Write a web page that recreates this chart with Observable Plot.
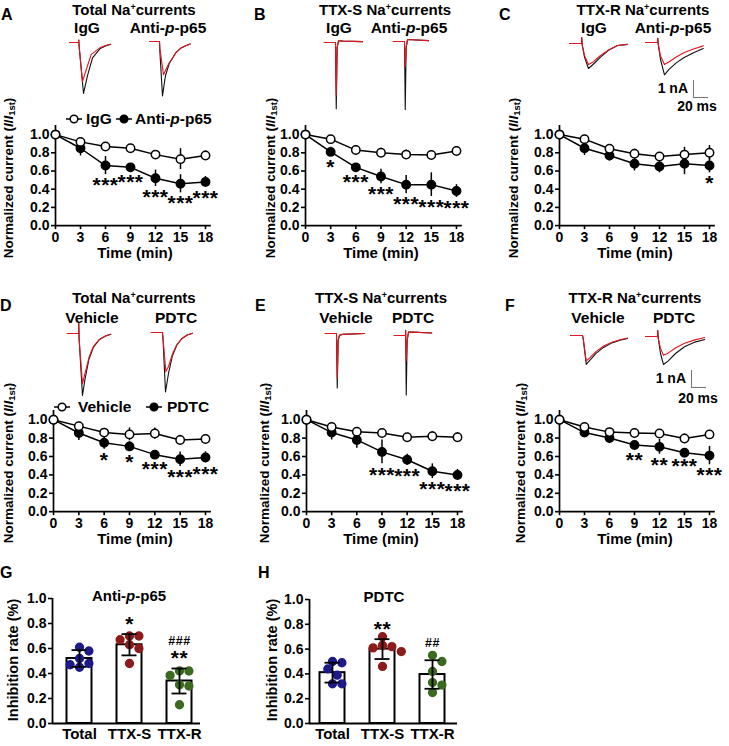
<!DOCTYPE html>
<html><head><meta charset="utf-8">
<script src="https://cdn.jsdelivr.net/npm/d3@7"></script>
<script src="https://cdn.jsdelivr.net/npm/@observablehq/plot@0.6"></script>
<style>
body{margin:0;background:#fff}
#root{position:relative;width:729px;height:746px;overflow:hidden;font-family:"Liberation Sans",Arial,Helvetica,sans-serif;font-weight:bold;color:#000;background:#fff}
#root svg{position:absolute}
.lbl{position:absolute;white-space:nowrap;line-height:1;font-weight:bold}
.sup{font-size:0.6em;vertical-align:0.55em}
.sub{font-size:0.7em;vertical-align:-0.25em}
.axisw [aria-label$="tick"]{stroke-width:1.6px}
.axisw g[aria-label="text"] text{letter-spacing:0.5px}
</style></head>
<body><div id="root"></div>
<script>
// ---------------- DATA ----------------
const times = [0, 3, 6, 9, 12, 15, 18];
const xTicks = [0, 3, 6, 9, 12, 15, 18];
const yTicks = [0, 0.2, 0.4, 0.6, 0.8, 1.0];

// Panel A: Total Na+ currents (IgG vs Anti-p-p65)
const A_ctrl = [1.0, 0.92, 0.87, 0.85, 0.78, 0.73, 0.77];
const A_ctrlErr = [0, 0.02, 0.03, 0.02, 0.02, 0.115, 0.05];
const A_trt = [1.0, 0.85, 0.66, 0.64, 0.52, 0.46, 0.48];
const A_trtErr = [0, 0.085, 0.10, 0.04, 0.09, 0.10, 0.06];
const A_stars = ["", "", "***", "***", "***", "***", "***"];
// Panel B: TTX-S
const B_ctrl = [1.0, 0.95, 0.83, 0.80, 0.78, 0.775, 0.82];
const B_ctrlErr = [0, 0.02, 0.05, 0.05, 0.05, 0.03, 0.05];
const B_trt = [1.0, 0.81, 0.64, 0.54, 0.45, 0.45, 0.38];
const B_trtErr = [0, 0.05, 0.04, 0.08, 0.10, 0.13, 0.07];
const B_stars = ["", "*", "***", "***", "***", "***", "***"];
// Panel C: TTX-R
const C_ctrl = [1.0, 0.95, 0.845, 0.79, 0.76, 0.78, 0.80];
const C_ctrlErr = [0, 0.02, 0.03, 0.05, 0.03, 0.08, 0.08];
const C_trt = [1.0, 0.85, 0.77, 0.68, 0.65, 0.68, 0.66];
const C_trtErr = [0, 0.08, 0.06, 0.08, 0.07, 0.12, 0.08];
const C_stars = ["", "", "", "", "", "", "*"];
// Panel D: Total (Vehicle vs PDTC)
const D_ctrl = [1.0, 0.93, 0.86, 0.84, 0.85, 0.78, 0.79];
const D_ctrlErr = [0, 0.02, 0.03, 0.07, 0.06, 0.05, 0.02];
const D_trt = [1.0, 0.855, 0.75, 0.71, 0.62, 0.57, 0.59];
const D_trtErr = [0, 0.08, 0.07, 0.05, 0.04, 0.08, 0.06];
const D_stars = ["", "", "*", "*", "***", "***", "***"];
// Panel E: TTX-S
const E_ctrl = [1.0, 0.92, 0.87, 0.855, 0.81, 0.82, 0.81];
const E_ctrlErr = [0, 0.02, 0.02, 0.03, 0.03, 0.05, 0.05];
const E_trt = [1.0, 0.86, 0.78, 0.65, 0.565, 0.44, 0.40];
const E_trtErr = [0, 0.08, 0.09, 0.13, 0.06, 0.08, 0.06];
const E_stars = ["", "", "", "***", "***", "***", "***"];
// Panel F: TTX-R
const F_ctrl = [1.0, 0.92, 0.865, 0.855, 0.85, 0.795, 0.84];
const F_ctrlErr = [0, 0.03, 0.03, 0.05, 0.04, 0.05, 0.04];
const F_trt = [1.0, 0.86, 0.80, 0.725, 0.705, 0.64, 0.61];
const F_trtErr = [0, 0.04, 0.06, 0.05, 0.08, 0.03, 0.10];
const F_stars = ["", "", "", "**", "**", "***", "***"];

// Bar panels G, H
const cats = ["Total", "TTX-S", "TTX-R"];
const dotColors = ["#1d1a8a", "#8e1b1b", "#3b6b1f"];
const G_means = [0.52, 0.63, 0.34];
const G_sd = [0.067, 0.085, 0.10];
const G_dots = [[0.61, 0.58, 0.52, 0.48, 0.47, 0.45], [0.70, 0.70, 0.67, 0.63, 0.60, 0.48], [0.42, 0.42, 0.385, 0.31, 0.30, 0.15]];
const G_sig = ["", "*", "**"];
const G_hash = ["", "", "###"];
const H_means = [0.41, 0.60, 0.395];
const H_sd = [0.08, 0.08, 0.115];
const H_dots = [[0.50, 0.49, 0.44, 0.39, 0.32, 0.32], [0.70, 0.63, 0.62, 0.61, 0.58, 0.46], [0.55, 0.50, 0.42, 0.33, 0.31, 0.25]];
const H_sig = ["", "**", ""];
const H_hash = ["", "", "##"];

// Current traces [ms, nA] (black = first, red = later)
const trA1k = [[-12,0],[0,0],[0.3,0.15],[1,-0.3],[6.7,-3.0],[12,-1.95],[18.7,-0.9],[29,-0.35],[36,-0.2],[43,-0.1]];
const trA1r = [[-12,0],[0,0],[0.3,0.15],[1,-0.3],[5.3,-2.3],[11,-1.5],[17,-0.7],[29,-0.3],[36,-0.18],[43,-0.1]];
const trA2k = [[-13,0],[0,0],[0.5,-0.6],[4,-3.2],[8,-2.0],[13,-1.3],[17,-1.0],[22,-0.65],[28,-0.4],[35,-0.25],[41,-0.15]];
const trA2r = [[-13,0],[0,0],[0.5,-0.4],[5.3,-1.95],[9,-1.6],[13,-1.25],[17,-1.0],[22,-0.65],[28,-0.4],[35,-0.25],[41,-0.15]];
const trB1k = [[-15,0],[0,0],[1,-3.9],[2.2,-0.3],[4,0.1],[10,0.08],[36,0.05]];
const trB1r = [[-15,0],[0,0],[1,-3.1],[2.2,-0.3],[4,0.1],[10,0.08],[36,0.05]];
const trB2k = [[-15,0],[0,0],[1,-4.0],[2.2,-0.4],[4,0.1],[10,0.1],[32,0.05]];
const trB2r = [[-15,0],[0,0],[1,-1.5],[2.2,-0.3],[4,0.1],[10,0.1],[32,0.05]];
const trC1k = [[-16,0],[0,0],[0.3,0.35],[1,-0.1],[4,-0.8],[9.3,-1.47],[15,-1.25],[25,-0.82],[36,-0.4],[48,-0.12],[61,-0.05]];
const trC1r = [[-16,0],[0,0],[0.3,0.35],[1,-0.1],[4,-0.7],[9.3,-1.24],[15,-1.1],[25,-0.72],[36,-0.38],[48,-0.12],[61,-0.05]];
const trC2k = [[-16,0],[0,0],[0.3,0.25],[1,-0.1],[4,-1.0],[9.3,-1.9],[15,-1.6],[25,-1.2],[35,-0.9],[48,-0.6],[61,-0.35]];
const trC2r = [[-16,0],[0,0],[0.3,0.25],[1,-0.1],[4,-0.8],[9.3,-1.3],[15,-1.15],[25,-0.85],[35,-0.6],[48,-0.38],[61,-0.2]];
const trD1k = [[-15,0],[0,0],[0.3,0.6],[0.8,-0.3],[5.3,-3.65],[9,-2.6],[14,-1.5],[20,-0.8],[28,-0.35],[36,-0.15],[43,-0.05]];
const trD1r = [[-15,0],[0,0],[0.3,0.6],[0.8,-0.3],[5.3,-2.95],[9,-2.3],[14,-1.4],[20,-0.75],[28,-0.35],[36,-0.15],[43,-0.05]];
const trD2k = [[-15,0],[0,0],[0.8,-0.5],[4,-3.5],[8,-2.4],[13,-1.4],[19,-0.75],[26,-0.35],[33,-0.15],[40,-0.05]];
const trD2r = [[-15,0],[0,0],[0.8,-0.4],[4.5,-2.3],[8,-2.0],[13,-1.3],[19,-0.72],[26,-0.35],[33,-0.15],[40,-0.05]];
const trE1k = [[-15,0],[0,0],[1,-3.2],[2.2,-0.4],[4,-0.1],[8,-0.05],[37,0]];
const trE1r = [[-15,0],[0,0],[1,-2.65],[2.2,-0.4],[4,-0.1],[8,-0.05],[37,0]];
const trE2k = [[-15,0],[0,0],[0.2,0.3],[1,-3.5],[2.2,-0.3],[4,0.2],[10,0.2],[35,0.15]];
const trE2r = [[-15,0],[0,0],[0.2,0.3],[1,-1.5],[2.2,-0.3],[4,0.2],[10,0.2],[35,0.15]];
const trF1k = [[-16,0],[0,0],[1,-0.2],[5,-1.7],[10,-1.45],[18,-1.05],[28,-0.7],[40,-0.42],[50,-0.28],[60,-0.18]];
const trF1r = [[-16,0],[0,0],[1,-0.2],[5,-1.5],[10,-1.3],[18,-0.95],[28,-0.62],[40,-0.38],[50,-0.25],[60,-0.15]];
const trF2k = [[-16,0],[0,0],[0.3,0.35],[1,-0.1],[4,-1.0],[8,-1.65],[14,-1.45],[24,-1.0],[36,-0.6],[50,-0.33],[63,-0.18]];
const trF2r = [[-16,0],[0,0],[0.3,0.35],[1,-0.1],[4,-0.7],[8,-1.1],[14,-0.98],[24,-0.68],[36,-0.4],[50,-0.2],[63,-0.06]];
const scaleNA = 1, scaleMs = 20;

// ---------------- RENDER ----------------
const FONT = '"Liberation Sans", Arial, Helvetica, sans-serif';
const root = document.getElementById("root");
function place(el, left, top) { el.style.left = left + "px"; el.style.top = top + "px"; root.appendChild(el); return el; }
function label(html, x, y, o = {}) {
  const {size = 14.5, anchor = "middle", rotate = 0} = o;
  const d = document.createElement("div");
  d.className = "lbl";
  d.innerHTML = html;
  const tx = anchor === "middle" ? -50 : anchor === "end" ? -100 : 0;
  d.style.cssText += `left:${x}px;top:${y}px;font-size:${size}px;transform:translate(${tx}%,-50%)${rotate ? ` rotate(${rotate}deg)` : ""};`;
  root.appendChild(d);
  return d;
}
const baseStyle = {background: "transparent", overflow: "visible", fontFamily: FONT, fontWeight: "bold", color: "#000"};

function linePanel(ctrl, ctrlErr, trt, trtErr, stars, L, R, Y0, Y1) {
  const kx = (R - L) / 18, ky = Y0 - Y1;
  const xMax = 18.7, yMax = 1.1;
  const ML = 45, MR = 20, MT = 6, MB = 28;
  const W = ML + xMax * kx + MR, H = MT + yMax * ky + MB;
  const cRows = times.map((t, i) => ({t, v: ctrl[i], e: ctrlErr[i]}));
  const tRows = times.map((t, i) => ({t, v: trt[i], e: trtErr[i], s: stars[i]}));
  const svg = Plot.plot({
    width: W, height: H, marginLeft: ML, marginRight: MR, marginTop: MT, marginBottom: MB,
    style: {...baseStyle, fontSize: "14px"},
    x: {domain: [0, xMax], ticks: xTicks, tickSize: 4, tickPadding: 2, label: null},
    y: {domain: [0, yMax], ticks: yTicks, tickSize: 4, tickPadding: 2, tickFormat: d3.format(".1f"), label: null},
    marks: [
      Plot.ruleX([0], {strokeWidth: 1.7}),
      Plot.ruleY([0], {strokeWidth: 1.7}),
      Plot.line(cRows, {x: "t", y: "v", strokeWidth: 1.5}),
      Plot.line(tRows, {x: "t", y: "v", strokeWidth: 1.5}),
      Plot.ruleX(tRows, {x: "t", y1: d => d.v - d.e, y2: d => d.v + d.e, strokeWidth: 1.5}),
      Plot.ruleX(cRows, {x: "t", y1: d => d.v - d.e, y2: d => d.v + d.e, strokeWidth: 1.5}),
      Plot.dot(tRows, {x: "t", y: "v", r: 4.2, fill: "black", stroke: "black"}),
      Plot.dot(cRows, {x: "t", y: "v", r: 4.2, fill: "white", stroke: "black", strokeWidth: 1.5}),
      Plot.text(tRows.filter(d => d.s), {x: "t", y: d => d.v - d.e - 0.03, text: "s", lineAnchor: "top", fontSize: 21, fontWeight: "bold"})
    ]
  });
  svg.classList.add("axisw");
  place(svg, L - ML, Y0 - H + MB);
}

function traceInset(black, red, ax, ay) {
  const k = 0.75, kv = 17, xd = [-20, 70], yd = [-4.6, 1];
  const W = (xd[1] - xd[0]) * k, H = (yd[1] - yd[0]) * kv;
  const svg = Plot.plot({
    width: W, height: H, margin: 0, style: baseStyle,
    x: {domain: xd, axis: null}, y: {domain: yd, axis: null},
    marks: [
      Plot.line(black, {x: d => d[0], y: d => d[1], stroke: "#111", strokeWidth: 1.1}),
      Plot.line(red, {x: d => d[0], y: d => d[1], stroke: "#e3161e", strokeWidth: 1.1})
    ]
  });
  place(svg, ax + xd[0] * k, ay - yd[1] * kv);
}

function scaleBar(x, yTop) {
  const svg = Plot.plot({
    width: 20 * 0.75 + 2, height: 17 + 2, margin: 1, style: baseStyle,
    x: {domain: [0, 20], axis: null}, y: {domain: [0, 1], axis: null},
    marks: [
      Plot.ruleX([0], {y1: 0, y2: scaleNA, stroke: "#777", strokeWidth: 1.1}),
      Plot.ruleY([0], {x1: 0, x2: scaleMs, stroke: "#777", strokeWidth: 1.1})
    ]
  });
  place(svg, x - 1, yTop - 1);
}

function swarm(values, r, ppu) {
  const order = d3.range(values.length).sort((a, b) => values[b] - values[a]);
  const placed = [], dx = new Array(values.length);
  const cands = [0];
  for (let k = 1; k < 12; k++) { cands.push(k * (r + 0.8)); cands.push(-k * (r + 0.8)); }
  for (const i of order) {
    const y = values[i] * ppu;
    for (const c of cands) {
      if (placed.every(p => Math.hypot(p.x - c, p.y - y) >= 2 * r + 0.8)) { dx[i] = c; placed.push({x: c, y}); break; }
    }
  }
  return dx;
}

function barPanel(means, sds, dots, sig, hash, L, c0, Xend, Y0, Y1) {
  const step = 50, ky = Y0 - Y1;
  const ML = 45, MR = 12, MT = 8, MB = 26;
  const W = ML + (Xend - L) + MR, H = MT + ky + MB;
  const rows = cats.map((c, i) => ({i, m: means[i], s: sds[i], sig: sig[i], hash: hash[i]}));
  const dotRows = cats.flatMap((c, i) => {
    const dx = swarm(dots[i], 3.9, ky);
    return dots[i].map((v, j) => ({i, v, x: i + dx[j] / step}));
  });
  const svg = Plot.plot({
    width: W, height: H, marginLeft: ML, marginRight: MR, marginTop: MT, marginBottom: MB,
    style: {...baseStyle, fontSize: "14px"},
    x: {domain: [(L - c0) / step, (Xend - c0) / step], ticks: [0, 1, 2], tickFormat: i => cats[i], tickSize: 0, tickPadding: 5, label: null},
    y: {domain: [0, 1], ticks: yTicks, tickSize: 4, tickPadding: 2, tickFormat: d3.format(".1f"), label: null},
    color: {domain: [0, 1, 2], range: dotColors},
    marks: [
      Plot.ruleX([(L - c0) / step], {strokeWidth: 1.8}),
      Plot.rectY(rows, {x1: d => d.i - 0.25, x2: d => d.i + 0.25, y1: 0, y2: "m", fill: "white", stroke: "black", strokeWidth: 2}),
      Plot.ruleY([0], {strokeWidth: 1.8}),
      Plot.dot(dotRows, {x: "x", y: "v", r: 3.9, fill: d => d.i, stroke: d => d.i}),
      Plot.ruleX(rows, {x: "i", y1: d => d.m - d.s, y2: d => d.m + d.s, strokeWidth: 1.8}),
      Plot.ruleY(rows, {x1: d => d.i - 0.15, x2: d => d.i + 0.15, y: d => d.m + d.s, strokeWidth: 1.8}),
      Plot.ruleY(rows, {x1: d => d.i - 0.15, x2: d => d.i + 0.15, y: d => d.m - d.s, strokeWidth: 1.8}),
      Plot.text(rows.filter(d => d.sig), {x: "i", y: d => d.m + d.s + 0.08, text: "sig", fontSize: 21, fontWeight: "bold"}),
      Plot.text(rows.filter(d => d.hash), {x: "i", y: d => d.m + d.s + (d.sig ? 0.22 : 0.14), text: "hash", fontSize: 12.5, fontWeight: "bold"})
    ]
  });
  svg.classList.add("axisw");
  svg.querySelectorAll('[aria-label="x-axis tick label"] text').forEach(t => t.style.fontSize = "15px");
  place(svg, L - ML, Y0 - H + MB);
}

function legend(items, y) {
  for (const it of items) {
    const s = document.createElementNS("http://www.w3.org/2000/svg", "svg");
    s.setAttribute("width", 16); s.setAttribute("height", 10);
    s.innerHTML = `<line x1="0" x2="16" y1="5" y2="5" stroke="black" stroke-width="1.5"/><circle cx="8" cy="5" r="3.8" fill="${it.filled ? "black" : "white"}" stroke="black" stroke-width="1.5"/>`;
    place(s, it.mx - 8, y - 5);
    label(it.label, it.tx, y, {anchor: "start", size: 15.5});
  }
}

// ---- Row 1 ----
const row1 = [
  {L: 55, R: 205, ctrl: A_ctrl, ce: A_ctrlErr, trt: A_trt, te: A_trtErr, st: A_stars},
  {L: 305, R: 456, ctrl: B_ctrl, ce: B_ctrlErr, trt: B_trt, te: B_trtErr, st: B_stars},
  {L: 559, R: 709, ctrl: C_ctrl, ce: C_ctrlErr, trt: C_trt, te: C_trtErr, st: C_stars}
];
row1.forEach(p => linePanel(p.ctrl, p.ce, p.trt, p.te, p.st, p.L, p.R, 225, 134));
const row2 = [
  {L: 53, R: 205, ctrl: D_ctrl, ce: D_ctrlErr, trt: D_trt, te: D_trtErr, st: D_stars},
  {L: 306, R: 457, ctrl: E_ctrl, ce: E_ctrlErr, trt: E_trt, te: E_trtErr, st: E_stars},
  {L: 559, R: 709, ctrl: F_ctrl, ce: F_ctrlErr, trt: F_trt, te: F_trtErr, st: F_stars}
];
row2.forEach(p => linePanel(p.ctrl, p.ce, p.trt, p.te, p.st, p.L, p.R, 511, 419));

// traces
traceInset(trA1k, trA1r, 78, 42); traceInset(trA2k, trA2r, 159, 41);
traceInset(trB1k, trB1r, 335, 42); traceInset(trB2k, trB2r, 404, 41);
traceInset(trC1k, trC1r, 581, 43); traceInset(trC2k, trC2r, 657, 42);
traceInset(trD1k, trD1r, 78, 333); traceInset(trD2k, trD2r, 162, 332);
traceInset(trE1k, trE1r, 336, 333); traceInset(trE2k, trE2r, 405, 335);
traceInset(trF1k, trF1r, 582, 335); traceInset(trF2k, trF2r, 657, 336);
scaleBar(693, 80); scaleBar(691, 370);
label("1 nA", 688, 88, {anchor: "end", size: 14});
label("20 ms", 697, 106, {size: 14});
label("1 nA", 686, 378, {anchor: "end", size: 14});
label("20 ms", 698, 398, {size: 14});

// bars
barPanel(G_means, G_sd, G_dots, G_sig, G_hash, 52, 79, 200, 722.5, 597.5);
barPanel(H_means, H_sd, H_dots, H_sig, H_hash, 309, 332, 457, 722.5, 598.5);

// texts
const NA = 'Na<span class="sup">+</span>';
const antip = 'Anti-<i>p</i>-p65';
const titles = [
  [`Total ${NA}currents`, 134, 9], [`TTX-S ${NA}currents`, 385, 9], [`TTX-R ${NA}currents`, 643, 9],
  [`Total ${NA}currents`, 134, 297], [`TTX-S ${NA}currents`, 381, 297], [`TTX-R ${NA}currents`, 635, 297]
];
titles.forEach(([t, x, y]) => label(t, x, y, {size: 15}));
const groups = [
  ["IgG", 87, 28], [antip, 168, 28], ["IgG", 339, 28], [antip, 409, 28], ["IgG", 594, 28], [antip, 673, 28],
  ["Vehicle", 92, 318], ["PDTC", 176, 318], ["Vehicle", 346, 318], ["PDTC", 413, 318], ["Vehicle", 598, 318], ["PDTC", 674, 318]
];
groups.forEach(([t, x, y]) => label(t, x, y, {size: 15.5}));
const letters = [["A", 1, 15], ["B", 254, 15], ["C", 499, 15], ["D", 0, 306], ["E", 255, 306], ["F", 505, 306], ["G", 0, 573], ["H", 258, 573]];
letters.forEach(([t, x, y]) => label(t, x, y, {size: 16, anchor: "start"}));
const ylab = 'Normalized current (<i>I</i>/<i>I</i><span class="sub">1st</span>)';
[[9, 178], [271, 178], [514, 178], [9, 463], [265, 463], [521, 463]].forEach(([x, y]) => label(ylab, x, y, {size: 13.5, rotate: -90}));
[[135, 252], [381, 252], [635, 252], [135, 538], [381, 538], [635, 538]].forEach(([x, y]) => label("Time (min)", x, y, {size: 15}));
legend([{label: "IgG", filled: false, mx: 74, tx: 86}, {label: antip, filled: true, mx: 124, tx: 135}], 119);
legend([{label: "Vehicle", filled: false, mx: 62, tx: 78}, {label: "PDTC", filled: true, mx: 154, tx: 167}], 407);
label(antip, 129, 595, {size: 15});
label("PDTC", 384, 596, {size: 15});
label("Inhibition rate (%)", 13, 660, {size: 14.5, rotate: -90});
label("Inhibition rate (%)", 272, 660, {size: 14.5, rotate: -90});
</script></body></html>
